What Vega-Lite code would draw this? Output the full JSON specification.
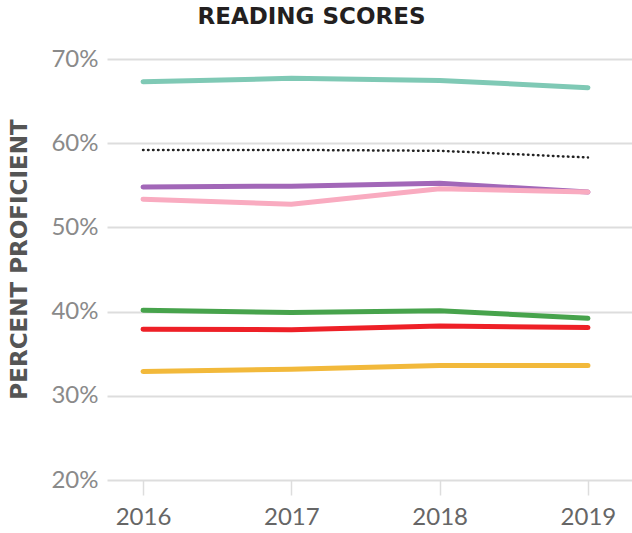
{
  "$schema": "https://vega.github.io/schema/vega-lite/v6.json",
  "width": 525,
  "height": 421,
  "autosize": "none",
  "padding": {"left": 107, "top": 59, "right": 0, "bottom": 53},
  "background": "white",
  "title": {
    "text": "READING SCORES",
    "font": "DejaVu Sans",
    "fontWeight": "bold",
    "fontSize": 23,
    "color": "#231f20",
    "anchor": "middle",
    "dx": -58,
    "offset": 18
  },
  "config": {"view": {"stroke": null}},
  "data": {
    "values": [
      {"year": 2016, "group": "G1", "value": 67.3},
      {"year": 2017, "group": "G1", "value": 67.7},
      {"year": 2018, "group": "G1", "value": 67.45},
      {"year": 2019, "group": "G1", "value": 66.6},
      {"year": 2016, "group": "Avg", "value": 59.2},
      {"year": 2017, "group": "Avg", "value": 59.2},
      {"year": 2018, "group": "Avg", "value": 59.1},
      {"year": 2019, "group": "Avg", "value": 58.3},
      {"year": 2016, "group": "G2", "value": 54.8},
      {"year": 2017, "group": "G2", "value": 54.9},
      {"year": 2018, "group": "G2", "value": 55.25},
      {"year": 2019, "group": "G2", "value": 54.2},
      {"year": 2016, "group": "G3", "value": 53.35},
      {"year": 2017, "group": "G3", "value": 52.75},
      {"year": 2018, "group": "G3", "value": 54.6},
      {"year": 2019, "group": "G3", "value": 54.2},
      {"year": 2016, "group": "G4", "value": 40.15},
      {"year": 2017, "group": "G4", "value": 39.9},
      {"year": 2018, "group": "G4", "value": 40.1},
      {"year": 2019, "group": "G4", "value": 39.2},
      {"year": 2016, "group": "G5", "value": 37.9},
      {"year": 2017, "group": "G5", "value": 37.85},
      {"year": 2018, "group": "G5", "value": 38.3},
      {"year": 2019, "group": "G5", "value": 38.1},
      {"year": 2016, "group": "G6", "value": 32.9},
      {"year": 2017, "group": "G6", "value": 33.15},
      {"year": 2018, "group": "G6", "value": 33.6},
      {"year": 2019, "group": "G6", "value": 33.6}
    ]
  },
  "encoding": {
    "x": {
      "field": "year",
      "type": "quantitative",
      "scale": {"domain": [2015.757, 2019.297], "nice": false, "zero": false},
      "axis": {
        "values": [2016, 2017, 2018, 2019],
        "format": "d",
        "title": null,
        "grid": false,
        "domain": false,
        "ticks": true,
        "tickSize": 15,
        "tickColor": "#dddddd",
        "tickWidth": 1.5,
        "labelFont": "Lato",
        "labelFontSize": 24,
        "labelColor": "#666666",
        "labelPadding": 10
      }
    },
    "y": {
      "field": "value",
      "type": "quantitative",
      "scale": {"domain": [20, 70], "nice": false, "zero": false},
      "axis": {
        "values": [20, 30, 40, 50, 60, 70],
        "labelExpr": "datum.value + '%'",
        "title": "PERCENT PROFICIENT",
        "titleFont": "DejaVu Sans",
        "titleFontWeight": "bold",
        "titleFontSize": 23,
        "titleColor": "#555555",
        "titleX": -76,
        "titleY": 200,
        "domain": false,
        "ticks": false,
        "grid": true,
        "gridColor": "#dddddd",
        "gridWidth": 2,
        "labelFont": "Lato",
        "labelFontSize": 24,
        "labelColor": "#8a8a8a",
        "labelPadding": 9
      }
    }
  },
  "layer": [
    {
      "transform": [{"filter": "datum.group === 'G1'"}],
      "mark": {"type": "line", "color": "#7fc9b5", "strokeWidth": 5, "strokeCap": "round"}
    },
    {
      "transform": [{"filter": "datum.group === 'Avg'"}],
      "mark": {"type": "line", "color": "#222222", "strokeWidth": 2.5, "strokeDash": [0.5, 4.5], "strokeCap": "round"}
    },
    {
      "transform": [{"filter": "datum.group === 'G2'"}],
      "mark": {"type": "line", "color": "#a267b8", "strokeWidth": 5, "strokeCap": "round"}
    },
    {
      "transform": [{"filter": "datum.group === 'G3'"}],
      "mark": {"type": "line", "color": "#f9abc0", "strokeWidth": 5, "strokeCap": "round"}
    },
    {
      "transform": [{"filter": "datum.group === 'G4'"}],
      "mark": {"type": "line", "color": "#47a34c", "strokeWidth": 5, "strokeCap": "round"}
    },
    {
      "transform": [{"filter": "datum.group === 'G5'"}],
      "mark": {"type": "line", "color": "#ee2027", "strokeWidth": 5, "strokeCap": "round"}
    },
    {
      "transform": [{"filter": "datum.group === 'G6'"}],
      "mark": {"type": "line", "color": "#f2b93b", "strokeWidth": 5, "strokeCap": "round"}
    }
  ]
}
